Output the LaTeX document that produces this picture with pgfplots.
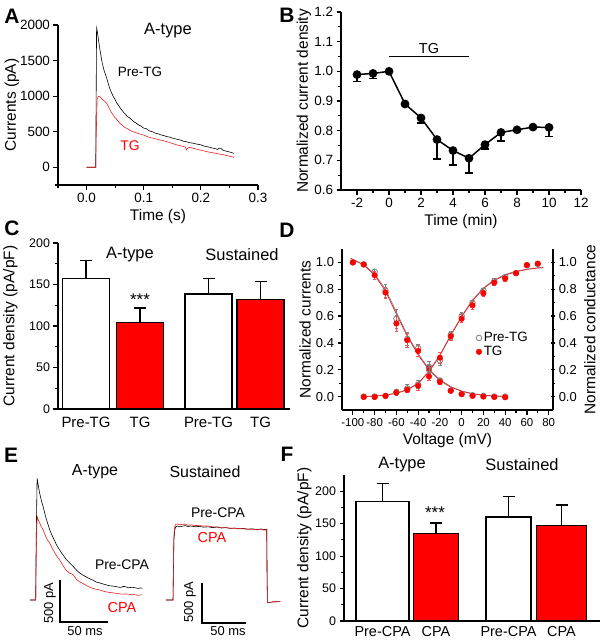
\documentclass[border=0pt]{standalone}
\usepackage{fontspec}
\setmainfont{Liberation Sans}
\usepackage{pgfplots}
\pgfplotsset{compat=1.18}
\definecolor{tgred}{RGB}{255,0,0}
\definecolor{trred}{RGB}{235,30,30}
\newcommand{\fs}[1]{\fontsize{#1}{#1}\selectfont}
\pgfplotsset{
 gp/.style={
   scale only axis,
   axis lines=left,
   axis line style={-, line width=1.4pt},
   tick align=outside,
   major tick length=4.5bp,
   minor tick length=3bp,
   tick style={black, line width=1.2pt},
   tick label style={font=\fs{12.5}},
   label style={font=\fs{15.5}},
   /pgf/number format/assume math mode=true,
   /pgf/number format/1000 sep={},
   scaled ticks=false,
   clip=false,
   anchor=south west,
 },
 ylab/.style={ylabel style={at={(axis description cs:#1,0.5)}, anchor=center, font=\fs{15.5}}},
 onedec/.style={/pgf/number format/.cd, fixed, fixed zerofill, precision=1},
 barerr/.style={error bars/.cd, y dir=plus, y explicit,
   error bar style={line width=1.5pt, black},
   error mark options={rotate=90, mark size=6bp, line width=1.5pt, black}},
}
\begin{document}
\begin{tikzpicture}
\path[use as bounding box] (0,0) rectangle (601bp,-640bp);

% ---------------- Panel letters
\node[font=\fs{21}\bfseries] at (12bp,-16bp) {A};
\node[font=\fs{21}\bfseries] at (287bp,-15bp) {B};
\node[font=\fs{21}\bfseries] at (12bp,-228bp) {C};
\node[font=\fs{21}\bfseries] at (287bp,-230bp) {D};
\node[font=\fs{21}\bfseries] at (11bp,-455bp) {E};
\node[font=\fs{21}\bfseries] at (287bp,-454bp) {F};

% ---------------- Panel A
\begin{axis}[gp, at={(58bp,-185bp)}, width=200bp, height=160bp,
  xmin=-0.05, xmax=0.3, ymin=-250, ymax=2000,
  xtick={0,0.1,0.2,0.3}, minor xtick={-0.05,0.05,0.15,0.25},
  ytick={0,500,1000,1500,2000}, minor ytick={-250},
  xticklabel style={onedec},
  tick label style={font=\fs{13.5}},
  xlabel={Time (s)}, ylabel={Currents (pA)}, ylab=-0.23]
\addplot[black, line width=0.6pt] coordinates {
(0.000,0) (0.016,0) (0.0168,1000) (0.0175,1960) (0.019,1900) (0.021,1780)
(0.0235,1650) (0.027,1480) (0.031,1350) (0.035,1260) (0.040,1120) (0.044,1040)
(0.047,990) (0.050,950) (0.053,900) (0.056,870) (0.059,830) (0.062,800) (0.065,770)
(0.068,745) (0.072,710) (0.076,690) (0.082,645) (0.086,625) (0.090,600) (0.095,580)
(0.100,550) (0.105,540) (0.110,510) (0.115,500) (0.120,480) (0.125,470) (0.130,455)
(0.135,445) (0.141,430) (0.145,425) (0.150,410) (0.155,400) (0.160,390) (0.165,380)
(0.170,365) (0.175,358) (0.180,345) (0.185,340) (0.190,330) (0.195,322) (0.200,315)
(0.205,300) (0.210,290) (0.215,282) (0.220,270) (0.225,262) (0.229,250) (0.232,268)
(0.235,265) (0.238,245) (0.240,235) (0.245,225) (0.250,215) (0.254,205) (0.258,195)};
\addplot[trred, line width=0.6pt] coordinates {
(0.000,0) (0.016,0) (0.017,500) (0.0185,960) (0.020,990) (0.022,1000) (0.024,985)
(0.026,965) (0.028,950) (0.031,930) (0.033,915) (0.035,900) (0.038,860) (0.040,820)
(0.043,780) (0.046,740) (0.049,705) (0.052,680) (0.055,650) (0.058,620) (0.061,600)
(0.065,570) (0.068,555) (0.072,540) (0.076,520) (0.081,500) (0.085,490) (0.090,475)
(0.095,462) (0.099,455) (0.105,435) (0.110,420) (0.115,410) (0.120,400) (0.125,390)
(0.130,380) (0.135,372) (0.140,360) (0.145,348) (0.150,335) (0.155,322) (0.160,310)
(0.165,300) (0.170,290) (0.173,282) (0.175,245) (0.177,270) (0.180,280) (0.185,270)
(0.190,260) (0.194,252) (0.198,243) (0.204,232) (0.210,220) (0.215,212) (0.220,205)
(0.225,198) (0.230,190) (0.235,182) (0.240,175) (0.245,165) (0.250,155) (0.254,148) (0.258,140)};
\end{axis}
\node[font=\fs{16.5}] at (168bp,-31bp) {A-type};
\node[font=\fs{13.5}] at (140bp,-72bp) {Pre-TG};
\node[font=\fs{14}, text=tgred] at (130bp,-146bp) {TG};

% ---------------- Panel B
\begin{axis}[gp, at={(341bp,-190bp)}, width=240bp, height=178bp,
  xmin=-3, xmax=12, ymin=0.6, ymax=1.2,
  xtick={-2,0,...,12}, minor x tick num=1,
  ytick={0.6,0.7,...,1.21}, minor y tick num=1,
  yticklabel style={onedec},
  tick label style={font=\fs{13.5}},
  xlabel={Time (min)}, ylabel={Normalized current density}, ylab=-0.155]
\addplot[black, line width=1.5pt, mark=*, mark size=3.6bp,
  error bars/.cd, y dir=minus, y explicit,
  error bar style={line width=1.5pt, black},
  error mark options={rotate=90, mark size=4bp, line width=1.5pt, black}]
 coordinates {
 (-2,0.989) -= (0,0.023)
 (-1,0.993) -= (0,0.017)
 (0,1.000) -= (0,0)
 (1,0.890) -= (0,0.004)
 (2,0.843) -= (0,0.017)
 (3,0.770) -= (0,0.065)
 (4,0.733) -= (0,0.048)
 (5,0.707) -= (0,0.049)
 (6,0.753) -= (0,0.014)
 (7,0.794) -= (0,0.028)
 (8,0.803) -= (0,0.004)
 (9,0.812) -= (0,0.004)
 (10,0.811) -= (0,0.031)};
\addplot[black, line width=1.6pt] coordinates {(0,1.05) (5,1.05)};
\node[font=\fs{14.5}] at (axis cs:2.5,1.077) {TG};
\end{axis}

% ---------------- Panel C
\begin{axis}[gp, at={(58bp,-409bp)}, width=232bp, height=166bp,
  xmin=0, xmax=232, ymin=0, ymax=200,
  xtick={28,82,150.5,202.5}, xticklabels={Pre-TG,TG,Pre-TG,TG},
  x tick style={draw=none},
  xticklabel style={font=\fs{15}},
  ytick={0,50,...,200}, minor y tick num=1,
  ylabel={Current density (pA/pF)}, ylab=-0.205]
\addplot[ybar, bar width=47, bar shift=0pt, fill=white, draw=black, line width=1.5pt, barerr]
 coordinates {(28,157) += (0,21.7) (150.5,138.6) += (0,18.4)};
\addplot[ybar, bar width=47, bar shift=0pt, fill=tgred, draw=black, line width=1.5pt, barerr]
 coordinates {(82,104.4) += (0,17.3) (202.5,131.7) += (0,22.1)};
\end{axis}
\node[font=\fs{16.5}] at (130bp,-255bp) {A-type};
\node[font=\fs{16.5}] at (242bp,-255bp) {Sustained};
\node[font=\fs{17}] at (140bp,-300bp) {***};

% ---------------- Panel D (left axis: inactivation)
\begin{axis}[gp, at={(342bp,-410bp)}, width=211bp, height=161bp,
  xmin=-110, xmax=84, ymin=-0.1, ymax=1.1,
  xtick={-100,-80,...,80}, minor x tick num=1,
  ytick={0,0.2,...,1.01}, minor y tick num=1,
  yticklabel style={onedec},
  tick label style={font=\fs{13}},
  xticklabel style={font=\fs{11.5}},
  xlabel={Voltage (mV)}, ylabel={Normalized currents}, ylab=-0.175,
  legend style={draw=none, fill=none, font=\fs{13.5}, at={(0.635,0.495)}, anchor=north west,
    row sep=-1pt, inner sep=0pt},
  legend cell align=left]
\addplot[gray, line width=0.7pt, forget plot] coordinates {
(-102,1.03) (-90,0.985) (-80,0.915) (-70,0.80) (-60,0.63) (-50,0.46) (-40,0.32) (-30,0.205)
(-20,0.125) (-10,0.075) (0,0.042) (10,0.022) (20,0.011) (30,0.005) (40,0.002)};
\addplot[trred, line width=0.7pt, forget plot] coordinates {
(-102,1.03) (-90,0.98) (-80,0.905) (-70,0.785) (-60,0.615) (-50,0.45) (-40,0.31) (-30,0.198)
(-20,0.12) (-10,0.07) (0,0.04) (10,0.02) (20,0.01) (30,0.004) (40,0.001)};
\addplot[only marks, mark=o, mark size=2.8bp, color=gray, mark options={line width=0.8pt},
  error bars/.cd, y dir=both, y explicit, error bar style={gray, line width=0.6pt},
  error mark options={rotate=90, mark size=1.8bp, gray, line width=0.6pt}]
 coordinates {
 (-100,1.00) +- (0,0.01) (-90,0.985) +- (0,0.015) (-80,0.93) +- (0,0.02)
 (-70,0.79) +- (0,0.05) (-60,0.58) +- (0,0.07) (-50,0.43) +- (0,0.05)
 (-40,0.36) +- (0,0.03) (-30,0.22) +- (0,0.04) (-20,0.12) +- (0,0.02)
 (-10,0.045) +- (0,0.01) (0,0.02) +- (0,0.01) (10,0.01) +- (0,0.005)
 (20,0.005) +- (0,0) (30,0.0) +- (0,0) (40,0.0) +- (0,0)};
\addlegendentry{Pre-TG}
\addplot[only marks, mark=*, mark size=2.8bp, color=tgred,
  error bars/.cd, y dir=both, y explicit, error bar style={tgred!70!white, line width=0.6pt},
  error mark options={rotate=90, mark size=1.8bp, tgred!70!white, line width=0.6pt}]
 coordinates {
 (-100,1.00) +- (0,0.005) (-90,0.985) +- (0,0.01) (-80,0.905) +- (0,0.03)
 (-70,0.775) +- (0,0.04) (-60,0.545) +- (0,0.06) (-50,0.42) +- (0,0.05)
 (-40,0.34) +- (0,0.04) (-30,0.21) +- (0,0.03) (-20,0.11) +- (0,0.02)
 (-10,0.043) +- (0,0.01) (0,0.018) +- (0,0.01) (10,0.005) +- (0,0)
 (20,0.0) +- (0,0) (30,-0.003) +- (0,0) (40,-0.005) +- (0,0)};
\addlegendentry{TG}
\end{axis}
% ---------------- Panel D (right axis: activation)
\begin{axis}[gp, at={(342bp,-410bp)}, width=211bp, height=161bp,
  axis x line=none, axis y line=right,
  y axis line style={-, line width=1.4pt},
  xmin=-110, xmax=84, ymin=-0.1, ymax=1.1,
  ytick={0,0.2,...,1.01}, minor y tick num=1,
  yticklabel style={onedec},
  tick label style={font=\fs{13}},
  ylabel={Normalized conductance}, ylab=1.175]
\addplot[gray, line width=0.7pt] coordinates {
(-90,0.0) (-80,0.005) (-70,0.012) (-60,0.026) (-50,0.052) (-40,0.10) (-30,0.19) (-20,0.31)
(-10,0.46) (0,0.60) (10,0.72) (20,0.81) (30,0.87) (40,0.91) (50,0.935) (60,0.95) (70,0.96) (75,0.965)};
\addplot[trred, line width=0.7pt] coordinates {
(-90,0.0) (-80,0.004) (-70,0.011) (-60,0.024) (-50,0.05) (-40,0.098) (-30,0.185) (-20,0.305)
(-10,0.455) (0,0.595) (10,0.715) (20,0.805) (30,0.865) (40,0.905) (50,0.93) (60,0.948) (70,0.958) (75,0.962)};
\addplot[only marks, mark=o, mark size=2.8bp, color=gray, mark options={line width=0.8pt},
  error bars/.cd, y dir=both, y explicit, error bar style={gray, line width=0.6pt},
  error mark options={rotate=90, mark size=1.8bp, gray, line width=0.6pt}]
 coordinates {
 (-90,0.0) +- (0,0) (-80,0.0) +- (0,0) (-70,0.005) +- (0,0)
 (-60,0.035) +- (0,0.02) (-50,0.06) +- (0,0.03) (-40,0.09) +- (0,0.03)
 (-30,0.20) +- (0,0.03) (-20,0.27) +- (0,0.04) (-10,0.46) +- (0,0.03)
 (0,0.60) +- (0,0.03) (10,0.70) +- (0,0.02) (20,0.79) +- (0,0.02)
 (30,0.86) +- (0,0.02) (40,0.89) +- (0,0.01) (50,0.92) +- (0,0.01)
 (60,0.98) +- (0,0) (70,0.99) +- (0,0)};
\addplot[only marks, mark=*, mark size=2.8bp, color=tgred,
  error bars/.cd, y dir=both, y explicit, error bar style={tgred!70!white, line width=0.6pt},
  error mark options={rotate=90, mark size=1.8bp, tgred!70!white, line width=0.6pt}]
 coordinates {
 (-90,-0.003) +- (0,0) (-80,-0.003) +- (0,0) (-70,0.005) +- (0,0)
 (-60,0.03) +- (0,0.02) (-50,0.05) +- (0,0.02) (-40,0.08) +- (0,0.03)
 (-30,0.15) +- (0,0.03) (-20,0.29) +- (0,0.04) (-10,0.45) +- (0,0.03)
 (0,0.58) +- (0,0.03) (10,0.68) +- (0,0.03) (20,0.77) +- (0,0.02)
 (30,0.85) +- (0,0.02) (40,0.88) +- (0,0.02) (50,0.92) +- (0,0.01)
 (60,0.98) +- (0,0.01) (70,0.99) +- (0,0)};
\end{axis}

% ---------------- Panel E (A-type traces)
\begin{axis}[scale only axis, anchor=south west, at={(28bp,-630bp)}, width=120bp, height=160bp,
  xmin=-5, xmax=120, ymin=-357, ymax=1548, hide axis, clip=false]
\addplot[black, line width=0.6pt] coordinates {
(-3,0) (3,0) (3.5,700) (4.5,1449) (5.5,1380) (7,1280) (9,1180) (10.8,1111) (13,1010)
(15,930) (17.7,833) (20,770) (23,700) (25,650) (28,595) (30,560) (32,530) (35,480)
(38.5,440) (42,400) (46,350) (49,320) (52,298) (55,280) (57,265) (60,250) (62,240) (66,215)
(70,202) (75,185) (80,170) (84,165) (87,159) (90,152) (92,150) (94,162) (96,160) (100,145)
(103,152) (105,150) (108,142) (110,138) (112,145) (114,139)};
\addplot[trred, line width=0.6pt] coordinates {
(-3,0) (3,0) (3.5,500) (4.5,992) (5.5,960) (7,920) (9,870) (10.8,833) (13,770) (15,720)
(17.7,675) (20,620) (23,560) (25,520) (28,476) (30,440) (32,400) (35,350) (37,335) (38.5,317)
(40,315) (42,300) (46,240) (49,215) (52,198) (55,180) (57,165) (60,150) (62,140) (66,128)
(70,119) (75,100) (80,90) (84,85) (87,79) (90,75) (92,70) (96,72) (100,70) (103,62)
(105,65) (108,60) (110,55) (112,62) (114,60)};
\addplot[black, line width=1.8pt] coordinates {(28,238) (28,-262) (78,-262)};
\end{axis}
% ---------------- Panel E (sustained traces)
\begin{axis}[scale only axis, anchor=south west, at={(160bp,-630bp)}, width=125bp, height=160bp,
  xmin=-14.8, xmax=127.3, ymin=-375, ymax=1625, hide axis, clip=false]
\addplot[black, line width=0.6pt] coordinates {
(-8,0) (0,0) (0.5,400) (1,750) (2,880) (3,915) (5,925) (8,915) (10,922) (14,930) (17,918)
(20,925) (25,915) (30,920) (35,910) (40,915) (45,905) (50,912) (55,900) (60,905) (65,895)
(70,900) (75,890) (80,895) (85,885) (90,890) (95,880) (100,888) (103,880) (106.5,884)
(107,200) (107.5,-34) (110,-30) (115,-22) (122,-20)};
\addplot[trred, line width=0.6pt] coordinates {
(-8,0) (0,0) (0.5,450) (1,800) (2,920) (3,946) (5,950) (8,940) (10,945) (14,948) (17,935)
(20,940) (25,932) (30,930) (35,925) (40,925) (45,915) (50,915) (55,905) (60,905) (65,898)
(70,895) (75,892) (80,890) (85,885) (90,885) (95,878) (100,880) (103,875) (106.5,875)
(107,200) (107.5,-34) (110,-30) (115,-22) (122,-20)};
\addplot[black, line width=1.8pt] coordinates {(33,212) (33,-288) (83,-288)};
\end{axis}
\node[font=\fs{16}] at (95bp,-472bp) {A-type};
\node[font=\fs{16}] at (205bp,-472bp) {Sustained};
\node[font=\fs{14}] at (122bp,-565bp) {Pre-CPA};
\node[font=\fs{14.5}, text=tgred] at (122bp,-608bp) {CPA};
\node[font=\fs{14}] at (218bp,-513bp) {Pre-CPA};
\node[font=\fs{14.5}, text=tgred] at (212bp,-538bp) {CPA};
\node[font=\fs{13}, rotate=90] at (50bp,-603bp) {500 pA};
\node[font=\fs{13}] at (85bp,-631bp) {50 ms};
\node[font=\fs{13}, rotate=90] at (190bp,-602bp) {500 pA};
\node[font=\fs{13}] at (228bp,-631bp) {50 ms};

% ---------------- Panel F
\begin{axis}[gp, at={(344bp,-621bp)}, width=256bp, height=146bp,
  xmin=0, xmax=256, ymin=0, ymax=225,
  xtick={38.5,92,164.5,217.5}, xticklabels={Pre-CPA,CPA,Pre-CPA,CPA},
  x tick style={draw=none},
  xticklabel style={font=\fs{14.5}, yshift=2.5bp},
  ytick={0,50,...,200}, minor y tick num=1,
  ylabel={Current density (pA/pF)}, ylab=-0.155]
\addplot[ybar, bar width=53, bar shift=0pt, fill=white, draw=black, line width=1.5pt, barerr]
 coordinates {(38.5,184) += (0,28)};
\addplot[ybar, bar width=45, bar shift=0pt, fill=white, draw=black, line width=1.5pt, barerr]
 coordinates {(164.5,160) += (0,32)};
\addplot[ybar, bar width=45, bar shift=0pt, fill=tgred, draw=black, line width=1.5pt, barerr]
 coordinates {(92,134.5) += (0,16.5)};
\addplot[ybar, bar width=50, bar shift=0pt, fill=tgred, draw=black, line width=1.5pt, barerr]
 coordinates {(217.5,147) += (0,32)};
\end{axis}
\node[font=\fs{16.5}] at (402bp,-465bp) {A-type};
\node[font=\fs{16.5}] at (522bp,-465bp) {Sustained};
\node[font=\fs{17}] at (435bp,-513bp) {***};
\end{tikzpicture}
\end{document}
